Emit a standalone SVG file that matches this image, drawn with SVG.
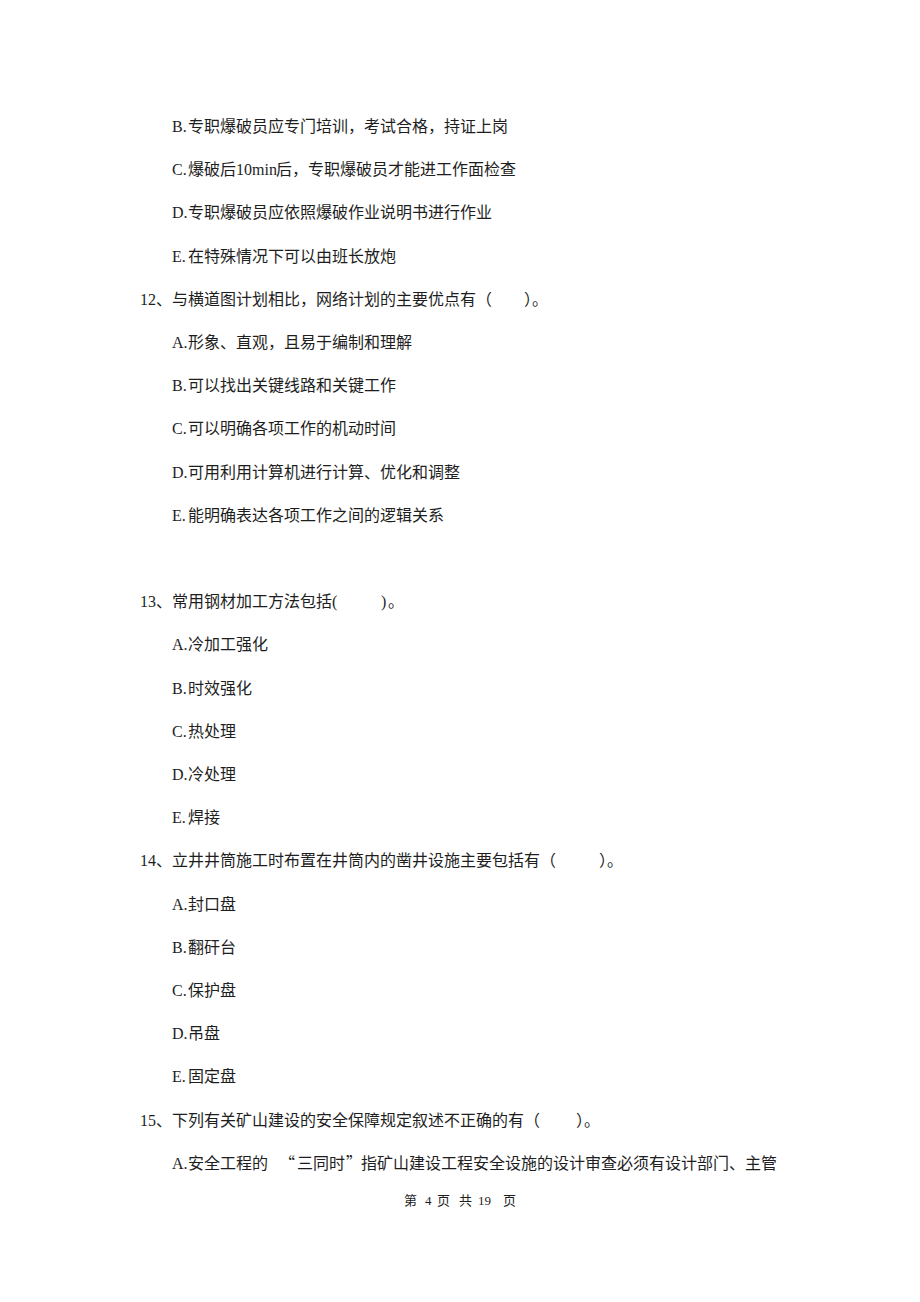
<svg xmlns="http://www.w3.org/2000/svg" width="920" height="1302" viewBox="0 0 920 1302">
<style>
text{font-family:"Liberation Serif","Noto Sans CJK SC",serif;font-size:16px;fill:#1e1e1e}
.c{font-family:"Noto Sans CJK SC",sans-serif}
.f{font-size:13px}
</style>
<rect width="920" height="1302" fill="#ffffff"/>
<g id="q11">
<text x="172" y="132">B.<tspan class="c" x="188">专职爆破员应专门培训，考试合格，持证上岗</tspan></text>
<text x="172" y="175.2">C.<tspan class="c" x="188">爆破后</tspan><tspan x="236">10min</tspan><tspan class="c" x="276">后，专职爆破员才能进工作面检查</tspan></text>
<text x="172" y="218.4">D.<tspan class="c" x="188">专职爆破员应依照爆破作业说明书进行作业</tspan></text>
<text x="172" y="261.6">E.<tspan class="c" x="188">在特殊情况下可以由班长放炮</tspan></text>
</g>
<g id="q12">
<text x="140" y="304.8">12<tspan class="c" x="156">、与横道图计划相比，网络计划的主要优点有（</tspan><tspan class="c" x="524">）。</tspan></text>
<text x="172" y="348">A.<tspan class="c" x="188">形象、直观，且易于编制和理解</tspan></text>
<text x="172" y="391.2">B.<tspan class="c" x="188">可以找出关键线路和关键工作</tspan></text>
<text x="172" y="434.4">C.<tspan class="c" x="188">可以明确各项工作的机动时间</tspan></text>
<text x="172" y="477.6">D.<tspan class="c" x="188">可用利用计算机进行计算、优化和调整</tspan></text>
<text x="172" y="520.8">E.<tspan class="c" x="188">能明确表达各项工作之间的逻辑关系</tspan></text>
</g>
<g id="q13">
<text x="140" y="607.2">13<tspan class="c" x="156">、常用钢材加工方法包括</tspan><tspan x="332">(</tspan><tspan x="381">)</tspan><tspan class="c" x="388">。</tspan></text>
<text x="172" y="650.4">A.<tspan class="c" x="188">冷加工强化</tspan></text>
<text x="172" y="693.6">B.<tspan class="c" x="188">时效强化</tspan></text>
<text x="172" y="736.8">C.<tspan class="c" x="188">热处理</tspan></text>
<text x="172" y="780">D.<tspan class="c" x="188">冷处理</tspan></text>
<text x="172" y="823.2">E.<tspan class="c" x="188">焊接</tspan></text>
</g>
<g id="q14">
<text x="140" y="866.4">14<tspan class="c" x="156">、立井井筒施工时布置在井筒内的凿井设施主要包括有（</tspan><tspan class="c" x="599">）。</tspan></text>
<text x="172" y="909.6">A.<tspan class="c" x="188">封口盘</tspan></text>
<text x="172" y="952.8">B.<tspan class="c" x="188">翻矸台</tspan></text>
<text x="172" y="996">C.<tspan class="c" x="188">保护盘</tspan></text>
<text x="172" y="1039.2">D.<tspan class="c" x="188">吊盘</tspan></text>
<text x="172" y="1082.4">E.<tspan class="c" x="188">固定盘</tspan></text>
</g>
<g id="q15">
<text x="140" y="1125.6">15<tspan class="c" x="156">、下列有关矿山建设的安全保障规定叙述不正确的有（</tspan><tspan class="c" x="576">）。</tspan></text>
<text x="172" y="1168.8">A.<tspan class="c" x="188">安全工程的</tspan><tspan class="c" x="279">“</tspan><tspan class="c" x="297">三同时</tspan><tspan class="c" x="346">”</tspan><tspan class="c" x="361">指矿山建设工程安全设施的设计审查必须有设计部门、主管</tspan></text>
</g>
<g id="footer">
<text class="f" y="1205"><tspan class="c" x="404">第</tspan><tspan x="425">4</tspan><tspan class="c" x="437">页</tspan><tspan class="c" x="459">共</tspan><tspan x="478">19</tspan><tspan class="c" x="503">页</tspan></text>
</g>
</svg>
